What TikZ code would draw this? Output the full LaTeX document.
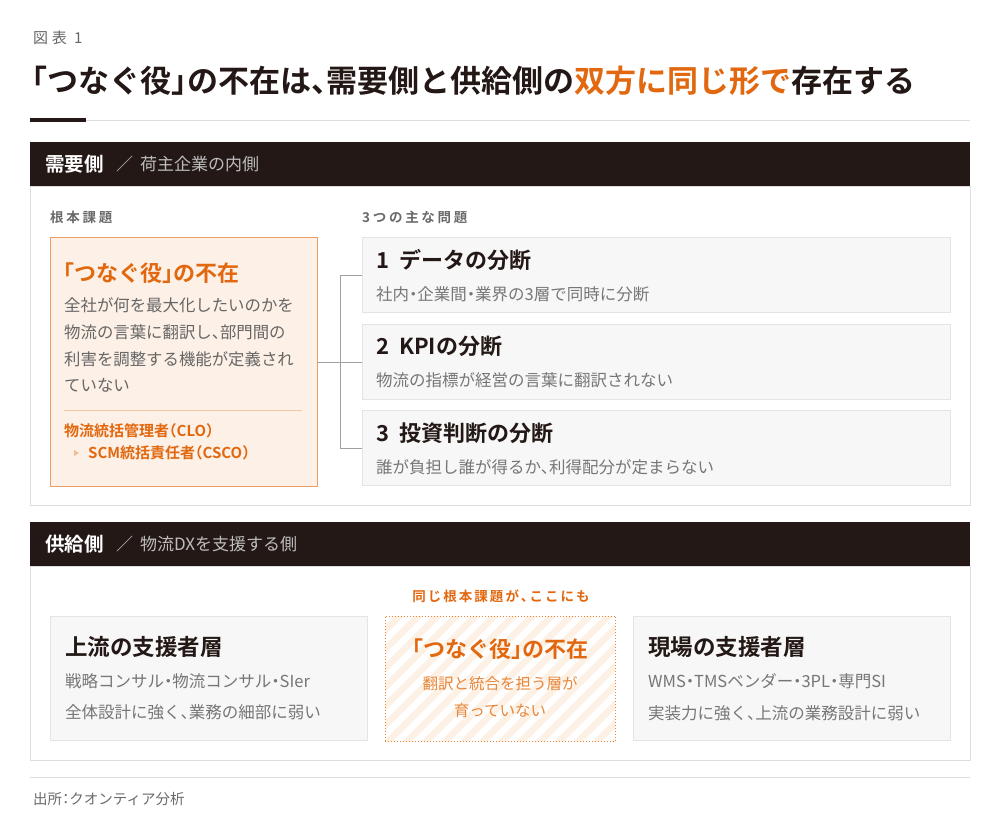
\documentclass[tikz,border=0pt]{standalone}
\usepackage{fontspec}
\setmainfont{Noto Sans CJK JP}[BoldFont={Noto Sans CJK JP Bold},RawFeature=+halt]
\usetikzlibrary{calc,positioning}
\definecolor{ink}{HTML}{231815}
\definecolor{accent}{HTML}{E2680F}
\definecolor{softaccent}{HTML}{E8873A}
\definecolor{rootfill}{HTML}{FDF0E6}
\definecolor{rootedge}{HTML}{EBA067}
\definecolor{stripe}{HTML}{FDF0E4}
\definecolor{boxfill}{HTML}{F7F7F7}
\definecolor{boxedge}{HTML}{E4E4E4}
\definecolor{bodygray}{HTML}{666666}
\definecolor{subgray}{HTML}{767676}
\definecolor{labelgray}{HTML}{6A6A6A}
\definecolor{notegray}{HTML}{BDBDBD}
\definecolor{rulegray}{HTML}{DEDEDE}
\definecolor{linkgray}{HTML}{A0A0A0}
\tikzstyle{txt}=[inner sep=0,anchor=west]
\tikzstyle{panel}=[draw=boxedge,fill=boxfill,line width=1pt,inner sep=0,anchor=north west]
\tikzstyle{link}=[draw=linkgray,line width=1pt]
\newcommand{\fsz}[1]{\fontsize{#1}{#1}\selectfont}
\newcommand{\spaced}[1]{\addfontfeature{LetterSpace=#1}}

\begin{document}
\begin{tikzpicture}[x=1pt,y=-1pt,
    bar/.style={fill=ink,inner sep=0,anchor=north west,
      minimum width=940pt,minimum height=44pt},
    body/.style={draw=rulegray,line width=1pt,fill=white,inner sep=0,
      anchor=north west,minimum width=940pt},
    probbox/.style={panel,minimum width=588pt,minimum height=75pt},
    tierbox/.style={panel,minimum width=317pt,minimum height=124pt},
    barname/.style={txt,font=\bfseries\fsz{19.5},text=white},
    barnote/.style={txt,font=\fsz{17},text=notegray},
    tag/.style={txt,font=\bfseries\fsz{13.5}\spaced{20},text=labelgray},
    probhead/.style={txt,font=\bfseries\fsz{22},text=ink},
    probnote/.style={txt,font=\fsz{16.5},text=subgray},
    tierhead/.style={txt,font=\bfseries\fsz{22.5},text=ink},
    tiernote/.style={txt,font=\fsz{16.5},text=subgray}
    ]
  \useasboundingbox [fill=white] (0,0) rectangle (1000,824);

  % title block
  \node [txt,font=\fsz{15}\spaced{25},text=bodygray] (fig) at (33,38) {図表 1};
  \node [txt,font=\bfseries\fsz{31},text=ink] (title) at (32,81)
    {「つなぐ役」の不在は、需要側と供給側の\textcolor{accent}{双方に同じ形で}存在する};
  \draw [rulegray,line width=1pt] (30,120) -- (970,120);
  \draw [ink,line width=3pt] (30,120) -- (86,120);

  % demand side
  \node [body,minimum height=319pt] (dbody) at (30,186) {};
  \node [bar] (dbar) at (30,142) {};
  \node [barname] (dname) at (45,164) {需要側};
  \node [barnote,right=12pt of dname] (dnote) {／\hspace{7pt}荷主企業の内側};

  \node [tag] (roottag) at (50,217) {根本課題};
  \node [tag] (probtag) at (362,217) {3つの主な問題};

  % root cause
  \node [panel,draw=rootedge,fill=rootfill,minimum width=267pt,
    minimum height=249pt] (root) at (50,237) {};
  \node [txt,font=\bfseries\fsz{22},text=accent] (rootname) at (63,273)
    {「つなぐ役」の不在};
  \foreach \rtext [count=\i] in {全社が何を最大化したいのかを,
      物流の言葉に翻訳し、部門間の,利害を調整する機能が定義され,ていない} {
    \node [txt,font=\fsz{16.4},text=bodygray] (rootdesc\i) at (64,279+26.7*\i) {\rtext};
  }
  \draw [rootedge!60,line width=0.8pt] (64,410) -- (302,410);
  \node [txt,font=\bfseries\fsz{15},text=accent] (clo) at (64,431)
    {物流統括管理者（CLO）};
  \node [txt,font=\bfseries\fsz{15},text=accent] (csco) at (88,453)
    {SCM統括責任者（CSCO）};
  \fill [rootedge!70] ($(csco.west)+(-14,-3)$) -- ++(5,3) -- ++(-5,3) -- cycle;

  % problems
  \foreach \y/\ptitle/\pnote [count=\i] in {
      237/データの分断/社内・企業間・業界の3層で同時に分断,
      323.5/KPIの分断/物流の指標が経営の言葉に翻訳されない,
      410/投資判断の分断/誰が負担し誰が得るか、利得配分が定まらない} {
    \node [probbox] (prob\i) at (362,\y) {};
    \node [probhead] (probtitle\i) at (376,\y+23) {\i\hspace{0.45em}\ptitle};
    \node [probnote] (probnote\i) at (376,\y+57) {\pnote};
  }

  % links from root to problems
  \coordinate (jn) at (340,361);
  \draw [link] (root.east) -- (root.east -| prob2.west);
  \draw [link] (prob1.west) -- (prob1.west -| jn) -- (prob3.west -| jn)
    -- (prob3.west);

  % supply side
  \node [body,minimum height=194pt] (sbody) at (30,566) {};
  \node [bar] (sbar) at (30,522) {};
  \node [barname] (sname) at (45,544) {供給側};
  \node [barnote,right=12pt of sname] (snote) {／\hspace{7pt}物流DXを支援する側};

  \node [txt,anchor=center,font=\bfseries\fsz{13.5}\spaced{15},text=accent]
    (same) at (501,596) {同じ根本課題が、ここにも};

  % supporter tiers
  \node [tierbox] (upper) at (50,616) {};
  \node [tierbox] (field) at (633,616) {};
  \node [inner sep=0,anchor=north west,fill=white,minimum width=230pt,
    minimum height=125pt] (gap) at (385,616) {};
  \begin{scope}
    \clip (gap.south west) rectangle (gap.north east);
    \foreach \x in {-140,-121,...,240} {
      \draw [stripe,line width=6.5pt] ($(gap.south west)+(\x,10)$) -- ++(150,-150);
    }
  \end{scope}
  \draw [softaccent,dotted,line width=1pt] (gap.south west) rectangle (gap.north east);

  \node [tierhead] (upperhead) at (65,647) {上流の支援者層};
  \node [tiernote] (uppernote1) at (65,681) {戦略コンサル・物流コンサル・SIer};
  \node [tiernote] (uppernote2) at (65,712) {全体設計に強く、業務の細部に弱い};

  \node [tierhead,anchor=center,font=\bfseries\fsz{22},text=accent] (gaphead)
    at (500,649) {「つなぐ役」の不在};
  \node [txt,anchor=center,font=\fsz{15.5},text=softaccent] (gapnote1)
    at (500,684) {翻訳と統合を担う層が};
  \node [txt,anchor=center,font=\fsz{15.5},text=softaccent] (gapnote2)
    at (500,711) {育っていない};

  \node [tierhead] (fieldhead) at (648,647) {現場の支援者層};
  \node [tiernote] (fieldnote1) at (648,681) {WMS・TMSベンダー・3PL・専門SI};
  \node [tiernote] (fieldnote2) at (648,713) {実装力に強く、上流の業務設計に弱い};

  % source
  \draw [rulegray,line width=1pt] (30,777) -- (970,777);
  \node [txt,font=\fsz{14.5},text=labelgray] (src) at (33,799) {出所：クオンティア分析};
\end{tikzpicture}
\end{document}
